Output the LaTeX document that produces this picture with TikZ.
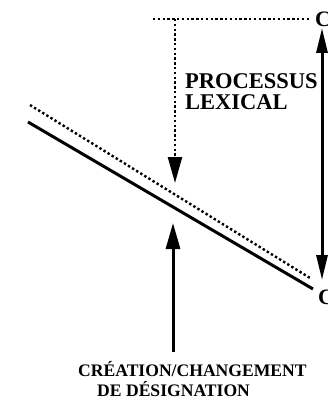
\documentclass[tikz,border=0pt]{standalone}
\usepackage{fontspec}
\setmainfont{Liberation Serif}
\usetikzlibrary{arrows.meta}
\begin{document}
\begin{tikzpicture}[
    x=1pt, y=-1pt,
    dotline/.style={line width=2.4pt, dash pattern=on 2.4pt off 2.4pt},
    boldline/.style={line width=3pt},
    bighead/.style={-{Triangle[length=26pt,width=14pt]}},
    label/.style={font=\bfseries\fontsize{22.5}{21.5}\selectfont, inner sep=0pt, align=left},
    caption/.style={font=\bfseries\fontsize{17.6}{20}\selectfont, inner sep=0pt, align=left},
    letter/.style={font=\bfseries\fontsize{22}{22}\selectfont, inner sep=0pt, anchor=west}
    ]
    \useasboundingbox (0,0) rectangle (327,404);
    \coordinate (dotStart) at (153,19);
    \coordinate (corner) at (175,19);
    \coordinate (dotEnd) at (310,19);
    \coordinate (hit) at (175,183);
    \coordinate (dlA) at (30,105);
    \coordinate (dlB) at (310,278);
    \coordinate (slA) at (28,122);
    \coordinate (slB) at (313,289);
    \coordinate (rise) at (173,223);
    \coordinate (riseFoot) at (173,352);
    \coordinate (upTip) at (322,28);
    \coordinate (downTip) at (322,280);
    \node[letter] (Ctop) at (315,19) {C};
    \node[letter] (Cbot) at (318,297) {C};
    \node[label, anchor=north west] (lexical) at (185,73) {PROCESSUS\\LEXICAL};
    \node[caption, anchor=north west] (creation) at (78,361)
        {CRÉATION/CHANGEMENT\\\hspace*{19pt}DE DÉSIGNATION};
    \draw[dotline] (dotStart) -- (dotEnd);
    \draw[dotline, bighead] (corner) -- (hit);
    \draw[dotline] (dlA) -- (dlB);
    \draw[boldline] (slA) -- (slB);
    \draw[boldline, bighead] (riseFoot) -- (rise);
    \draw[boldline, {Triangle[length=25pt,width=11pt]}-{Triangle[length=25pt,width=11pt]}] (upTip) -- (downTip);
\end{tikzpicture}
\end{document}
